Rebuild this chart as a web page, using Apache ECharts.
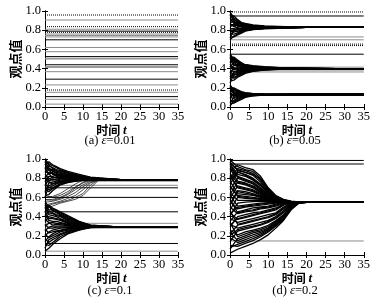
<!DOCTYPE html>
<html>
<head>
<meta charset="utf-8">
<script src="https://cdn.jsdelivr.net/npm/echarts@6/dist/echarts.min.js"></script>
<style>
  html, body { margin: 0; padding: 0; background: #fff; }
  #chart { width: 373px; height: 298px; }
</style>
</head>
<body>
<div id="chart"></div>
<script>
// ---------- data ----------
const panelNames = ["(a) ", "(b) ", "(c) ", "(d) "];
const panelEps = ["0.01", "0.05", "0.1", "0.2"];

// (a) eps = 0.01 : opinions stay where they start
const aDark = [0.79, 0.70, 0.525, 0.44, 0.29, 0.108];
const aDotted = [0.958, 0.837, 0.778, 0.177];
const aGray = [0.906, 0.81, 0.76, 0.745, 0.73, 0.62, 0.576, 0.507, 0.50, 0.42, 0.413, 0.368, 0.23, 0.153, 0.08, 0.03];

// (b) eps = 0.05
const bDark = [0.948, 0.55, 0.13];
const bDotted = [0.99, 0.655, 0.64];
const bGray = [0.73, 0.70, 0.415, 0.385, 0.365];
const bTimes1 = [0, 1, 2, 3, 4, 6, 9];
const bEnd1 = { t: 20, v: 0.83 };
const bCluster1 = [
  [0.94, 0.95, 0.91, 0.88, 0.87, 0.855, 0.845],
  [0.99, 0.93, 0.90, 0.88, 0.86, 0.85, 0.84],
  [0.91, 0.91, 0.89, 0.87, 0.86, 0.85, 0.84],
  [0.97, 0.92, 0.88, 0.87, 0.855, 0.845, 0.84],
  [0.88, 0.89, 0.87, 0.86, 0.85, 0.845, 0.835],
  [0.96, 0.90, 0.86, 0.85, 0.85, 0.84, 0.835],
  [0.93, 0.87, 0.88, 0.86, 0.845, 0.84, 0.835],
  [0.85, 0.86, 0.85, 0.85, 0.84, 0.835, 0.832],
  [0.90, 0.89, 0.84, 0.84, 0.84, 0.835, 0.83],
  [0.87, 0.84, 0.86, 0.83, 0.835, 0.83, 0.83],
  [0.81, 0.82, 0.83, 0.84, 0.83, 0.83, 0.828],
  [0.84, 0.85, 0.82, 0.82, 0.825, 0.825, 0.826],
  [0.78, 0.80, 0.82, 0.81, 0.82, 0.82, 0.825],
  [0.82, 0.81, 0.80, 0.815, 0.815, 0.82, 0.824],
  [0.75, 0.79, 0.81, 0.80, 0.81, 0.815, 0.822],
  [0.79, 0.78, 0.79, 0.80, 0.805, 0.815, 0.82],
  [0.72, 0.80, 0.78, 0.79, 0.80, 0.81, 0.82],
  [0.76, 0.76, 0.77, 0.79, 0.80, 0.81, 0.818],
  [0.70, 0.74, 0.76, 0.78, 0.795, 0.81, 0.818],
  [0.73, 0.73, 0.75, 0.77, 0.79, 0.805, 0.815]
];
const bTimes2 = [0, 1, 2, 3, 4, 6, 9, 13];
const bEnd2 = { t: 28, v: 0.40 };
const bCluster2 = [
  [0.50, 0.52, 0.49, 0.46, 0.44, 0.43, 0.42, 0.41],
  [0.55, 0.50, 0.48, 0.45, 0.44, 0.425, 0.415, 0.41],
  [0.46, 0.51, 0.47, 0.46, 0.43, 0.42, 0.415, 0.408],
  [0.53, 0.49, 0.48, 0.44, 0.44, 0.42, 0.41, 0.405],
  [0.49, 0.48, 0.46, 0.45, 0.43, 0.415, 0.41, 0.405],
  [0.54, 0.50, 0.45, 0.44, 0.425, 0.415, 0.41, 0.403],
  [0.42, 0.46, 0.47, 0.43, 0.42, 0.41, 0.405, 0.402],
  [0.51, 0.45, 0.44, 0.44, 0.42, 0.41, 0.405, 0.401],
  [0.52, 0.47, 0.43, 0.42, 0.415, 0.405, 0.402, 0.40],
  [0.40, 0.43, 0.44, 0.42, 0.41, 0.405, 0.40, 0.40],
  [0.48, 0.44, 0.42, 0.41, 0.41, 0.40, 0.40, 0.40],
  [0.45, 0.40, 0.41, 0.40, 0.405, 0.40, 0.40, 0.40],
  [0.35, 0.41, 0.39, 0.40, 0.40, 0.398, 0.40, 0.40],
  [0.43, 0.39, 0.40, 0.39, 0.395, 0.395, 0.397, 0.399],
  [0.31, 0.36, 0.38, 0.385, 0.39, 0.393, 0.396, 0.398],
  [0.38, 0.37, 0.37, 0.38, 0.385, 0.39, 0.395, 0.397],
  [0.29, 0.35, 0.36, 0.37, 0.38, 0.388, 0.393, 0.397],
  [0.37, 0.33, 0.35, 0.37, 0.375, 0.385, 0.392, 0.396],
  [0.25, 0.34, 0.34, 0.36, 0.37, 0.38, 0.39, 0.395],
  [0.34, 0.31, 0.33, 0.35, 0.365, 0.38, 0.39, 0.395],
  [0.32, 0.30, 0.32, 0.34, 0.36, 0.375, 0.388, 0.394],
  [0.27, 0.28, 0.31, 0.33, 0.35, 0.37, 0.385, 0.393]
];
const bTimes3 = [0, 1, 2, 3, 4, 6, 9];
const bEnd3 = { t: 16, v: 0.13 };
const bCluster3 = [
  [0.19, 0.20, 0.18, 0.16, 0.15, 0.14, 0.135],
  [0.23, 0.18, 0.17, 0.155, 0.145, 0.14, 0.134],
  [0.16, 0.19, 0.16, 0.15, 0.145, 0.138, 0.133],
  [0.22, 0.17, 0.16, 0.15, 0.14, 0.136, 0.132],
  [0.13, 0.16, 0.15, 0.145, 0.14, 0.135, 0.132],
  [0.21, 0.15, 0.145, 0.14, 0.137, 0.133, 0.131],
  [0.18, 0.14, 0.14, 0.135, 0.134, 0.132, 0.13],
  [0.09, 0.14, 0.13, 0.133, 0.131, 0.13, 0.13],
  [0.15, 0.11, 0.125, 0.125, 0.128, 0.129, 0.13],
  [0.12, 0.12, 0.115, 0.12, 0.125, 0.128, 0.129],
  [0.04, 0.10, 0.11, 0.115, 0.12, 0.126, 0.128],
  [0.10, 0.09, 0.10, 0.11, 0.118, 0.125, 0.128],
  [0.01, 0.07, 0.09, 0.105, 0.115, 0.123, 0.127],
  [0.07, 0.06, 0.08, 0.10, 0.11, 0.12, 0.126],
  [0.06, 0.05, 0.07, 0.09, 0.105, 0.118, 0.125],
  [0.03, 0.04, 0.06, 0.08, 0.10, 0.115, 0.124]
];

// (c) eps = 0.1
const cDark = [0.70, 0.60, 0.45, 0.12];
const cGray = [0.77, 0.726, 0.33, 0.28, 0.04];
const cTimes1 = [0, 1, 2, 3, 4, 6, 9, 12];
const cEnd1 = { t: 20, v: 0.785 };
const cCluster1 = [
  [0.94, 0.97, 0.94, 0.92, 0.90, 0.87, 0.84, 0.81],
  [1.00, 0.95, 0.93, 0.91, 0.89, 0.86, 0.83, 0.805],
  [0.89, 0.93, 0.91, 0.89, 0.88, 0.855, 0.825, 0.80],
  [0.98, 0.94, 0.90, 0.88, 0.87, 0.85, 0.82, 0.80],
  [0.86, 0.90, 0.89, 0.87, 0.86, 0.84, 0.815, 0.795],
  [0.97, 0.91, 0.87, 0.86, 0.85, 0.835, 0.81, 0.795],
  [0.95, 0.88, 0.88, 0.85, 0.84, 0.83, 0.81, 0.79],
  [0.80, 0.86, 0.85, 0.84, 0.835, 0.825, 0.805, 0.79],
  [0.92, 0.89, 0.84, 0.83, 0.83, 0.82, 0.80, 0.79],
  [0.91, 0.84, 0.86, 0.82, 0.825, 0.815, 0.80, 0.788],
  [0.76, 0.82, 0.82, 0.83, 0.82, 0.81, 0.795, 0.788],
  [0.87, 0.85, 0.80, 0.81, 0.81, 0.805, 0.795, 0.787],
  [0.72, 0.79, 0.81, 0.80, 0.80, 0.80, 0.79, 0.786],
  [0.84, 0.80, 0.78, 0.79, 0.795, 0.795, 0.79, 0.786],
  [0.82, 0.77, 0.79, 0.78, 0.79, 0.79, 0.788, 0.785],
  [0.65, 0.75, 0.76, 0.77, 0.78, 0.785, 0.786, 0.785],
  [0.78, 0.76, 0.74, 0.76, 0.77, 0.78, 0.784, 0.785],
  [0.60, 0.72, 0.74, 0.75, 0.765, 0.775, 0.782, 0.784],
  [0.74, 0.70, 0.72, 0.74, 0.755, 0.77, 0.78, 0.784],
  [0.70, 0.68, 0.70, 0.72, 0.745, 0.765, 0.778, 0.783],
  [0.68, 0.66, 0.69, 0.71, 0.735, 0.76, 0.776, 0.783],
  [0.62, 0.63, 0.67, 0.70, 0.73, 0.755, 0.775, 0.782]
];
const cTimesMid = [0, 2, 4, 6, 8, 10, 12, 14];
const cMid = [
  [0.62, 0.60, 0.62, 0.66, 0.71, 0.75, 0.78, 0.785],
  [0.58, 0.57, 0.59, 0.63, 0.68, 0.73, 0.77, 0.785],
  [0.55, 0.56, 0.58, 0.61, 0.65, 0.71, 0.76, 0.784],
  [0.52, 0.54, 0.56, 0.59, 0.62, 0.68, 0.75, 0.783],
  [0.50, 0.53, 0.55, 0.57, 0.60, 0.64, 0.73, 0.78],
  [0.48, 0.51, 0.54, 0.56, 0.58, 0.62, 0.70, 0.775],
  [0.57, 0.58, 0.60, 0.64, 0.70, 0.76, 0.785, 0.785],
  [0.60, 0.61, 0.64, 0.69, 0.74, 0.78, 0.785, 0.785]
];
const cTimes2 = [0, 1, 2, 3, 4, 6, 9, 12];
const cEnd2 = { t: 18, v: 0.295 };
const cCluster2 = [
  [0.48, 0.52, 0.49, 0.47, 0.45, 0.41, 0.35, 0.31],
  [0.56, 0.50, 0.48, 0.46, 0.44, 0.40, 0.345, 0.31],
  [0.44, 0.51, 0.46, 0.45, 0.43, 0.39, 0.34, 0.305],
  [0.54, 0.47, 0.47, 0.44, 0.42, 0.38, 0.335, 0.305],
  [0.40, 0.46, 0.44, 0.42, 0.41, 0.37, 0.33, 0.30],
  [0.52, 0.44, 0.43, 0.41, 0.40, 0.36, 0.325, 0.30],
  [0.50, 0.42, 0.41, 0.40, 0.38, 0.35, 0.32, 0.30],
  [0.35, 0.40, 0.39, 0.38, 0.37, 0.34, 0.315, 0.298],
  [0.46, 0.38, 0.38, 0.37, 0.36, 0.33, 0.31, 0.297],
  [0.42, 0.36, 0.35, 0.35, 0.34, 0.32, 0.305, 0.296],
  [0.30, 0.33, 0.34, 0.33, 0.33, 0.31, 0.30, 0.295],
  [0.37, 0.34, 0.31, 0.32, 0.315, 0.305, 0.30, 0.295],
  [0.25, 0.29, 0.30, 0.30, 0.30, 0.30, 0.297, 0.295],
  [0.32, 0.28, 0.28, 0.29, 0.29, 0.29, 0.293, 0.294],
  [0.20, 0.24, 0.26, 0.27, 0.28, 0.285, 0.29, 0.293],
  [0.27, 0.23, 0.24, 0.25, 0.26, 0.275, 0.287, 0.292],
  [0.14, 0.19, 0.22, 0.24, 0.25, 0.27, 0.285, 0.292],
  [0.22, 0.18, 0.20, 0.22, 0.24, 0.26, 0.28, 0.29],
  [0.07, 0.16, 0.18, 0.20, 0.22, 0.25, 0.275, 0.289],
  [0.17, 0.13, 0.16, 0.18, 0.21, 0.24, 0.27, 0.288],
  [0.11, 0.10, 0.13, 0.16, 0.19, 0.23, 0.265, 0.287],
  [0.04, 0.07, 0.11, 0.14, 0.17, 0.22, 0.26, 0.286]
];

// (d) eps = 0.2
const dDark = [0.985, 0.948];
const dGray = [0.146];
const dTimes = [0, 2, 4, 6, 8, 10, 12, 14, 16, 18];
const dEnd = { t: 21, v: 0.55 };
const dCluster = [
  [0.87, 0.94, 0.91, 0.89, 0.82, 0.70, 0.62, 0.58, 0.56, 0.553],
  [0.99, 0.92, 0.89, 0.87, 0.80, 0.68, 0.61, 0.575, 0.558, 0.552],
  [0.80, 0.90, 0.88, 0.85, 0.78, 0.67, 0.60, 0.57, 0.556, 0.551],
  [0.97, 0.88, 0.86, 0.83, 0.76, 0.66, 0.60, 0.57, 0.555, 0.551],
  [0.74, 0.86, 0.84, 0.80, 0.74, 0.65, 0.595, 0.565, 0.554, 0.551],
  [0.95, 0.84, 0.82, 0.78, 0.72, 0.64, 0.59, 0.565, 0.553, 0.55],
  [0.93, 0.82, 0.79, 0.76, 0.70, 0.63, 0.585, 0.56, 0.552, 0.55],
  [0.68, 0.80, 0.77, 0.74, 0.68, 0.62, 0.58, 0.56, 0.552, 0.55],
  [0.90, 0.77, 0.75, 0.72, 0.67, 0.61, 0.575, 0.558, 0.551, 0.55],
  [0.85, 0.75, 0.73, 0.70, 0.65, 0.60, 0.57, 0.556, 0.551, 0.55],
  [0.59, 0.72, 0.70, 0.68, 0.64, 0.595, 0.568, 0.555, 0.55, 0.55],
  [0.82, 0.70, 0.68, 0.66, 0.62, 0.59, 0.565, 0.554, 0.55, 0.55],
  [0.53, 0.67, 0.66, 0.64, 0.61, 0.585, 0.562, 0.553, 0.55, 0.55],
  [0.77, 0.64, 0.63, 0.62, 0.60, 0.58, 0.56, 0.552, 0.55, 0.55],
  [0.71, 0.62, 0.61, 0.60, 0.59, 0.575, 0.558, 0.551, 0.55, 0.55],
  [0.47, 0.60, 0.59, 0.585, 0.58, 0.57, 0.556, 0.551, 0.55, 0.55],
  [0.65, 0.57, 0.57, 0.57, 0.57, 0.565, 0.555, 0.55, 0.55, 0.55],
  [0.41, 0.54, 0.55, 0.555, 0.56, 0.56, 0.553, 0.55, 0.55, 0.55],
  [0.62, 0.51, 0.52, 0.53, 0.54, 0.545, 0.548, 0.55, 0.55, 0.55],
  [0.56, 0.48, 0.50, 0.51, 0.52, 0.53, 0.54, 0.548, 0.55, 0.55],
  [0.35, 0.45, 0.47, 0.49, 0.50, 0.51, 0.53, 0.545, 0.549, 0.55],
  [0.50, 0.43, 0.45, 0.46, 0.48, 0.49, 0.51, 0.54, 0.548, 0.55],
  [0.29, 0.40, 0.42, 0.44, 0.45, 0.47, 0.49, 0.53, 0.546, 0.55],
  [0.44, 0.37, 0.39, 0.41, 0.43, 0.45, 0.47, 0.52, 0.544, 0.549],
  [0.38, 0.34, 0.36, 0.38, 0.40, 0.42, 0.44, 0.50, 0.54, 0.549],
  [0.22, 0.31, 0.33, 0.35, 0.37, 0.39, 0.42, 0.48, 0.535, 0.548],
  [0.32, 0.28, 0.30, 0.32, 0.34, 0.36, 0.40, 0.46, 0.53, 0.547],
  [0.14, 0.25, 0.27, 0.29, 0.31, 0.34, 0.38, 0.44, 0.52, 0.546],
  [0.26, 0.21, 0.24, 0.26, 0.28, 0.31, 0.36, 0.42, 0.51, 0.545],
  [0.06, 0.17, 0.20, 0.23, 0.25, 0.28, 0.34, 0.40, 0.50, 0.544],
  [0.18, 0.13, 0.16, 0.19, 0.22, 0.26, 0.32, 0.38, 0.49, 0.543],
  [0.10, 0.09, 0.12, 0.15, 0.19, 0.24, 0.30, 0.37, 0.48, 0.542],
  [0.02, 0.06, 0.09, 0.12, 0.16, 0.21, 0.28, 0.36, 0.47, 0.54],
  [0.96, 0.89, 0.86, 0.84, 0.79, 0.69, 0.61, 0.575, 0.557, 0.552],
  [0.78, 0.87, 0.83, 0.79, 0.73, 0.645, 0.59, 0.563, 0.553, 0.55],
  [0.91, 0.81, 0.78, 0.75, 0.69, 0.625, 0.582, 0.56, 0.552, 0.55],
  [0.63, 0.76, 0.74, 0.71, 0.66, 0.605, 0.572, 0.557, 0.551, 0.55],
  [0.83, 0.71, 0.69, 0.67, 0.63, 0.592, 0.566, 0.554, 0.55, 0.55],
  [0.52, 0.66, 0.645, 0.63, 0.605, 0.582, 0.561, 0.552, 0.55, 0.55],
  [0.72, 0.61, 0.60, 0.59, 0.585, 0.572, 0.557, 0.551, 0.55, 0.55],
  [0.43, 0.495, 0.51, 0.52, 0.53, 0.54, 0.545, 0.549, 0.55, 0.55],
  [0.58, 0.44, 0.46, 0.47, 0.49, 0.50, 0.52, 0.543, 0.549, 0.55],
  [0.31, 0.38, 0.40, 0.42, 0.44, 0.46, 0.48, 0.525, 0.545, 0.549],
  [0.46, 0.32, 0.34, 0.36, 0.38, 0.40, 0.43, 0.49, 0.538, 0.548],
  [0.20, 0.265, 0.285, 0.30, 0.32, 0.35, 0.39, 0.45, 0.525, 0.546],
  [0.34, 0.19, 0.22, 0.245, 0.265, 0.295, 0.35, 0.41, 0.505, 0.544],
  [0.08, 0.11, 0.14, 0.17, 0.205, 0.25, 0.31, 0.375, 0.485, 0.542],
  [0.24, 0.15, 0.18, 0.21, 0.235, 0.27, 0.33, 0.39, 0.495, 0.543]
];

const tMax = 35;

// ---------- layout ----------
const grids = [
  { left: 45, top: 11, width: 133, height: 96 },
  { left: 230, top: 11, width: 134, height: 96 },
  { left: 45, top: 159, width: 133, height: 96 },
  { left: 230, top: 159, width: 134, height: 96 }
];

const serif = "'Liberation Serif', 'DejaVu Serif', serif";
const cjk = "'Noto Sans CJK SC', sans-serif";

const xAxes = [];
const yAxes = [];
grids.forEach((g, i) => {
  xAxes.push({
    gridIndex: i, type: "value", min: 0, max: 35, interval: 5, position: "bottom",
    name: "时间 {i|t}", nameLocation: "middle", nameGap: 15,
    nameTextStyle: { fontFamily: cjk, fontSize: 12, color: "#000", fontWeight: "bold",
      rich: { i: { fontFamily: serif, fontStyle: "italic", fontSize: 13, color: "#000" } } },
    axisLine: { lineStyle: { color: "#000", width: 1 } },
    axisTick: { inside: true, length: 3, lineStyle: { color: "#000" } },
    axisLabel: { fontFamily: serif, fontSize: 12.5, color: "#000", margin: 3 },
    splitLine: { show: false }
  });
  xAxes.push({
    gridIndex: i, type: "value", min: 0, max: 35, interval: 5, position: "top",
    axisLine: { lineStyle: { color: "#000", width: 1 } },
    axisTick: { inside: true, length: 3, lineStyle: { color: "#000" } },
    axisLabel: { show: false }, splitLine: { show: false }
  });
  yAxes.push({
    gridIndex: i, type: "value", min: 0, max: 1, interval: 0.2, position: "left",
    name: "观点值", nameLocation: "middle", nameGap: 23,
    nameTextStyle: { fontFamily: cjk, fontSize: 13, color: "#000", fontWeight: "bold" },
    axisLine: { show: true, lineStyle: { color: "#000", width: 1 } },
    axisTick: { show: true, inside: true, length: 3, lineStyle: { color: "#000" } },
    axisLabel: { fontFamily: serif, fontSize: 12.5, color: "#000", margin: 4,
      formatter: v => v.toFixed(1) },
    splitLine: { show: false }
  });
  yAxes.push({
    gridIndex: i, type: "value", min: 0, max: 1, interval: 0.2, position: "right",
    axisLine: { show: true, lineStyle: { color: "#000", width: 1 } },
    axisTick: { show: true, inside: true, length: 3, lineStyle: { color: "#000" } },
    axisLabel: { show: false }, splitLine: { show: false }
  });
});

// ---------- series ----------
const series = [];
function addLine(panel, pts, color, width, type) {
  series.push({
    type: "line", xAxisIndex: panel * 2, yAxisIndex: panel * 2,
    data: pts, symbol: "none", silent: true, animation: false,
    lineStyle: { color: color, width: width, type: type || "solid" },
    z: color === "#000" ? 3 : 2
  });
}
function addFlat(panel, vals, color, width, type) {
  vals.forEach(v => addLine(panel, [[0, v], [tMax, v]], color, width, type));
}
function addCluster(panel, times, rows, end, width) {
  rows.forEach(r => {
    const pts = times.map((t, k) => [t, r[k]]);
    pts.push([end.t, end.v], [tMax, end.v]);
    addLine(panel, pts, "#000", width);
  });
}

const DARK = "#000", GRAY = "#8c8c8c";
const BUNDLE_W = 1.3;

addFlat(0, aGray, GRAY, 1);
addFlat(0, aDark, DARK, 1);
addFlat(0, aDotted, DARK, 1, "dotted");

addFlat(1, bGray, GRAY, 1);
addFlat(1, bDark, DARK, 1);
addFlat(1, bDotted, DARK, 1, "dotted");
addCluster(1, bTimes1, bCluster1, bEnd1, BUNDLE_W);
addCluster(1, bTimes2, bCluster2, bEnd2, BUNDLE_W);
addCluster(1, bTimes3, bCluster3, bEnd3, BUNDLE_W);

addFlat(2, cGray, GRAY, 1);
addFlat(2, cDark, DARK, 1);
addCluster(2, cTimes1, cCluster1, cEnd1, BUNDLE_W);
cMid.forEach(r => addLine(2, cTimesMid.map((t, k) => [t, r[k]]).concat([[tMax, r[r.length - 1]]]), DARK, 0.7));
addCluster(2, cTimes2, cCluster2, cEnd2, BUNDLE_W);

addFlat(3, dGray, GRAY, 1);
addFlat(3, dDark, DARK, 1);
addCluster(3, dTimes, dCluster, dEnd, BUNDLE_W);

// ---------- captions ----------
const captionPos = [[110, 141], [295, 141], [110, 291], [295, 291]];
const graphic = captionPos.map((p, i) => ({
  type: "text", x: p[0], y: p[1],
  style: {
    text: panelNames[i] + "{i|ε}=" + panelEps[i],
    font: "12.5px " + serif, fill: "#000", align: "center", verticalAlign: "middle",
    rich: { i: { fontFamily: serif, fontStyle: "italic", fontSize: 13, fill: "#000" } }
  }
}));

const chart = echarts.init(document.getElementById("chart"), null, { renderer: "canvas" });
chart.setOption({
  animation: false,
  grid: grids,
  xAxis: xAxes,
  yAxis: yAxes,
  series: series,
  graphic: graphic
});
</script>
</body>
</html>
